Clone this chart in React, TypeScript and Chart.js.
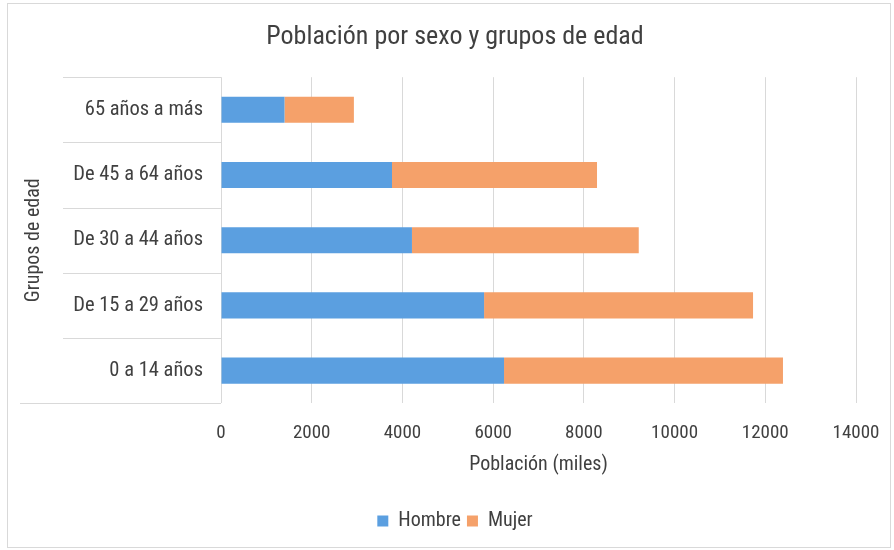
import React, { useEffect, useRef } from "react";
import { Chart, registerables } from "chart.js";

Chart.register(...registerables);

const categories = ["65 años a más", "De 45 a 64 años", "De 30 a 44 años", "De 15 a 29 años", "0 a 14 años"];
const hombre = [1400, 3770, 4210, 5800, 6240];
const mujer = [1530, 4520, 5000, 5930, 6150];
const xMax = 14000;
const xStep = 2000;

const FONT = "Roboto, 'Liberation Sans', Arial, sans-serif";
const WEIGHT = "condensed";
const TEXT = "#404040";
const GRID = "#d9d9d9";

const boundaryPlugin = {
  id: "catBounds",
  afterDraw(chart: any) {
    const y = chart.scales.y;
    const ctx = chart.ctx;
    const n = categories.length;
    ctx.save();
    ctx.strokeStyle = GRID;
    ctx.lineWidth = 1;
    for (let i = 0; i <= n; i++) {
      let py: number;
      if (i === 0) py = y.top;
      else if (i === n) py = y.bottom;
      else py = (y.getPixelForValue(i - 1) + y.getPixelForValue(i)) / 2;
      const x0 = i === n ? 20 : 63;
      ctx.beginPath();
      ctx.moveTo(x0, Math.round(py) + 0.5);
      ctx.lineTo(chart.chartArea.left, Math.round(py) + 0.5);
      ctx.stroke();
    }
    ctx.restore();
  },
};

export default function App() {
  const ref = useRef<HTMLCanvasElement | null>(null);
  useEffect(() => {
    if (!ref.current) return;
    const chart = new Chart(ref.current, {
      type: "bar",
      data: {
        labels: categories,
        datasets: [
          { label: "Hombre", data: hombre, backgroundColor: "#5b9fe0", borderWidth: 0 },
          { label: "Mujer", data: mujer, backgroundColor: "#f5a16a", borderWidth: 0 },
        ],
      },
      plugins: [boundaryPlugin],
      options: {
        indexAxis: "y",
        animation: false,
        responsive: false,
        maintainAspectRatio: false,
        layout: { padding: { left: 54, right: 38, top: 0, bottom: 9 } },
        datasets: { bar: { categoryPercentage: 1, barPercentage: 0.4 } },
        plugins: {
          title: {
            display: true,
            text: "Población por sexo y grupos de edad",
            color: TEXT,
            font: { family: FONT, size: 26, weight: WEIGHT as any },
            padding: { top: 22, bottom: 24 },
          },
          legend: {
            position: "bottom",
            labels: {
              color: TEXT,
              font: { family: FONT, size: 20, weight: WEIGHT as any },
              boxWidth: 11,
              boxHeight: 11,
              padding: 6,
            },
          },
          tooltip: { enabled: false },
        },
        scales: {
          x: {
            stacked: true,
            min: 0,
            max: xMax,
            ticks: {
              stepSize: xStep,
              color: TEXT,
              font: { family: FONT, size: 19, weight: WEIGHT as any },
              padding: 19,
              callback: (v: any) => String(v),
            },
            grid: { color: GRID, drawTicks: false },
            border: { display: false },
            title: {
              display: true,
              text: "Población (miles)",
              color: TEXT,
              font: { family: FONT, size: 20, weight: WEIGHT as any },
              padding: { top: -11, bottom: 28 },
            },
            afterFit: (s: any) => {
              s.paddingRight = 0;
              s.paddingLeft = 0;
            },
          },
          y: {
            stacked: true,
            ticks: { color: TEXT, font: { family: FONT, size: 20.5, weight: WEIGHT as any }, padding: 18 },
            grid: { display: false, drawTicks: false },
            border: { display: false },
            title: {
              display: true,
              text: "Grupos de edad",
              color: TEXT,
              font: { family: FONT, size: 20, weight: WEIGHT as any },
              padding: { top: -32, bottom: 0 },
            },
            afterFit: (s: any) => {
              s.width = 167;
            },
          },
        },
      },
    });
    return () => chart.destroy();
  }, []);
  return (
    <div style={{ position: "absolute", left: 0, top: 0, width: 894, height: 550, background: "#fff" }}>
      <div style={{ position: "absolute", left: 7, top: 3, width: 882, height: 543, border: "1px solid #d9d9d9" }} />
      <canvas ref={ref} width={894} height={550} style={{ position: "absolute", left: 0, top: 0 }} />
    </div>
  );
}
